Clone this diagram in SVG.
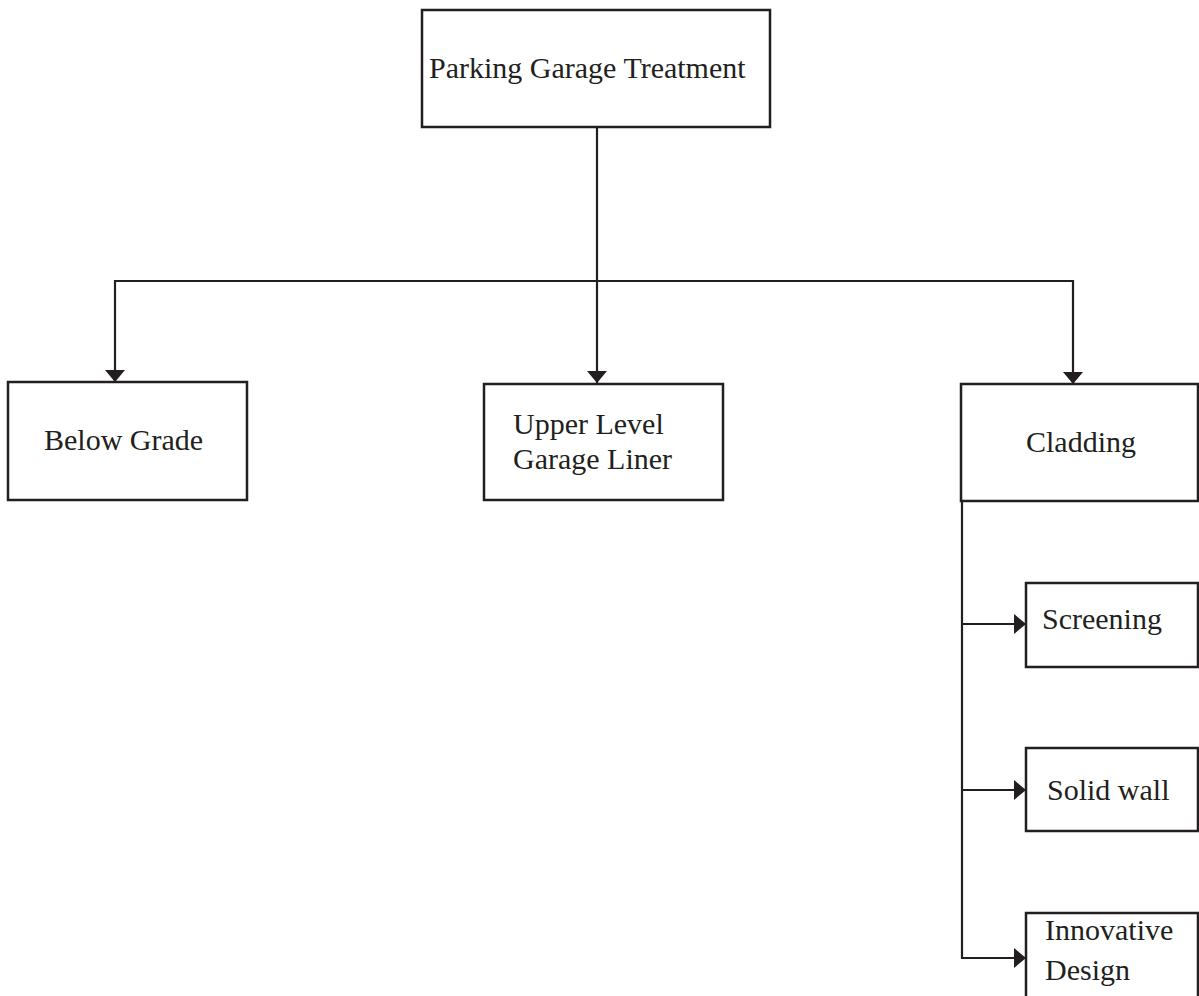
<svg xmlns="http://www.w3.org/2000/svg" width="1199" height="996" viewBox="0 0 1199 996">
<style>
.box{fill:#fff;stroke:#231f20;stroke-width:2.5}
.lbl{font-family:"Liberation Serif","Times New Roman",serif;font-size:30px;fill:#231f20}
.con{fill:none;stroke:#231f20;stroke-width:2.2}
</style>
<defs>
<marker id="arr" markerUnits="userSpaceOnUse" markerWidth="12" markerHeight="20" refX="12" refY="10" orient="auto">
<path d="M0,0 L12,10 L0,20 Z" fill="#231f20"/>
</marker>
</defs>
<rect width="1199" height="996" fill="#fff"/>
<g id="connectors">
<line class="con" x1="597" y1="127" x2="597" y2="383" marker-end="url(#arr)"/>
<line class="con" x1="115" y1="281" x2="1073" y2="281"/>
<line class="con" x1="115" y1="280" x2="115" y2="382" marker-end="url(#arr)"/>
<line class="con" x1="1073" y1="280" x2="1073" y2="384" marker-end="url(#arr)"/>
<line class="con" x1="962" y1="501" x2="962" y2="959"/>
<line class="con" x1="961" y1="624" x2="1026" y2="624" marker-end="url(#arr)"/>
<line class="con" x1="961" y1="790" x2="1026" y2="790" marker-end="url(#arr)"/>
<line class="con" x1="961" y1="958" x2="1026" y2="958" marker-end="url(#arr)"/>
</g>
<g id="root">
<rect class="box" x="422" y="10" width="348" height="117"/>
<text class="lbl" x="429" y="78">Parking Garage Treatment</text>
</g>
<g id="below-grade">
<rect class="box" x="8" y="382" width="239" height="118"/>
<text class="lbl" x="44" y="450">Below Grade</text>
</g>
<g id="upper-level">
<rect class="box" x="484" y="384" width="239" height="116"/>
<text class="lbl" x="513" y="434">Upper Level</text>
<text class="lbl" x="513" y="469">Garage Liner</text>
</g>
<g id="cladding">
<rect class="box" x="961" y="384" width="237" height="117"/>
<text class="lbl" x="1026" y="452">Cladding</text>
</g>
<g id="screening">
<rect class="box" x="1026" y="583" width="172" height="84"/>
<text class="lbl" x="1042" y="629">Screening</text>
</g>
<g id="solid-wall">
<rect class="box" x="1026" y="748" width="172" height="83"/>
<text class="lbl" x="1047" y="800">Solid wall</text>
</g>
<g id="innovative-design">
<rect class="box" x="1026" y="913" width="172" height="100"/>
<text class="lbl" x="1045" y="940">Innovative</text>
<text class="lbl" x="1045" y="980">Design</text>
</g>
</svg>
